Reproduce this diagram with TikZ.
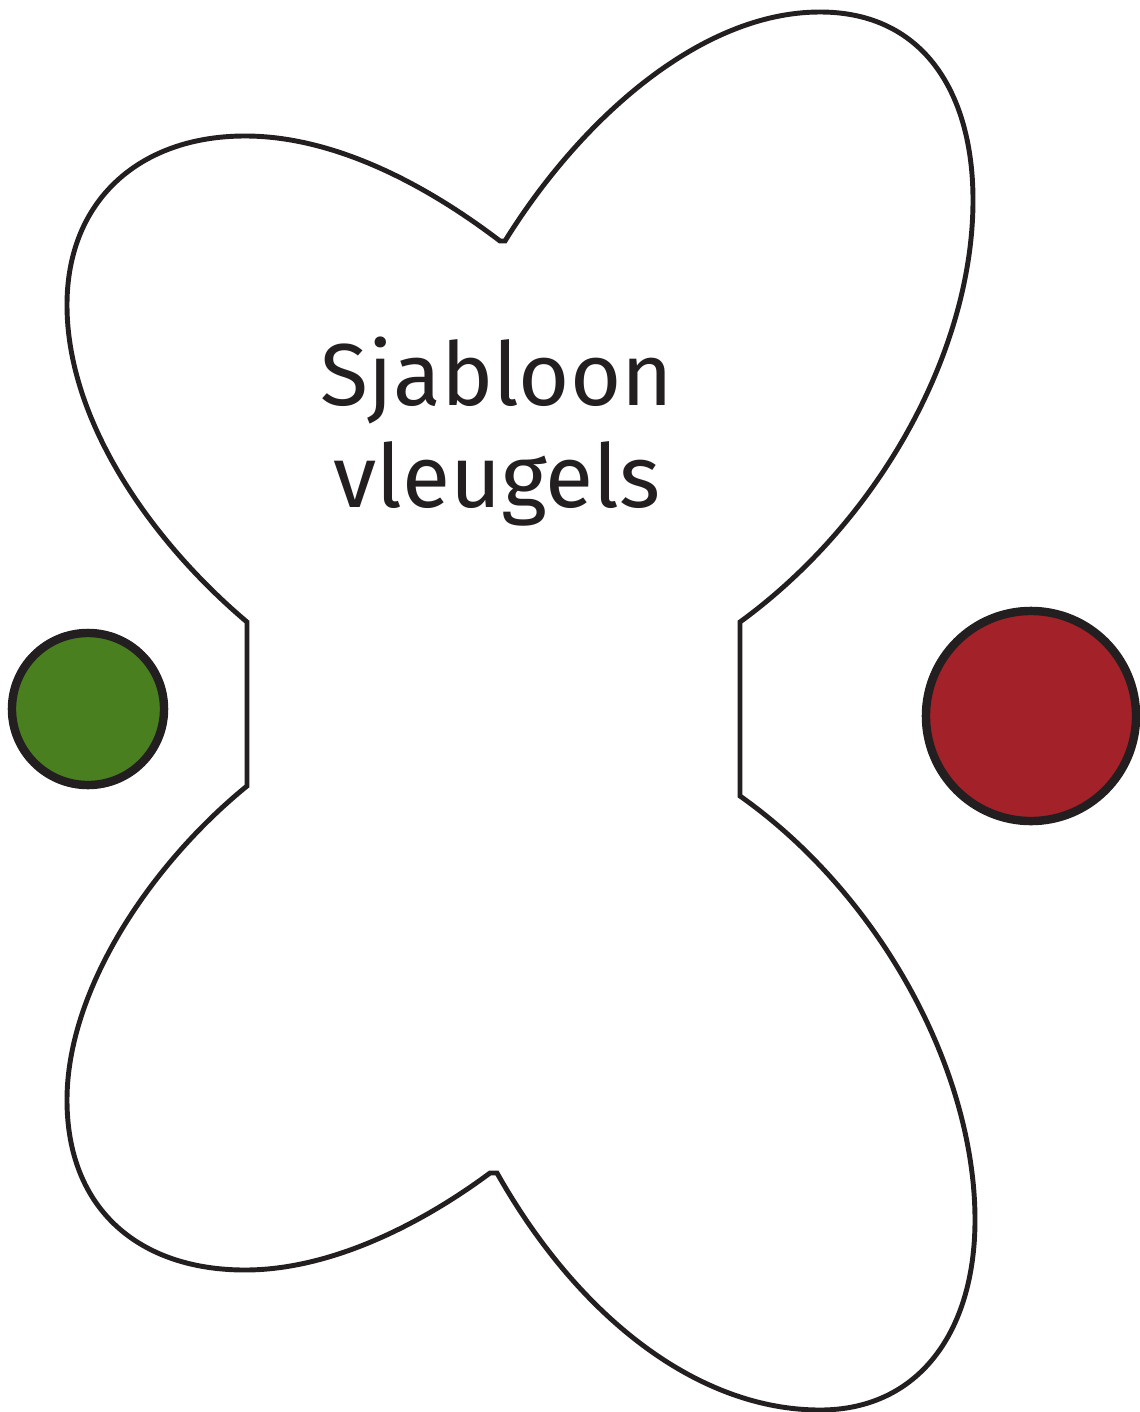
\documentclass[tikz,border=0pt]{standalone}
\usepackage{fontspec}
\setmainfont{Fira Sans}
\usepackage{tikz}
\definecolor{inkdark}{HTML}{231F20}
\definecolor{dotgreen}{HTML}{4A7F20}
\definecolor{dotred}{HTML}{A32129}

\begin{document}
\begin{tikzpicture}[x=0.01cm,y=-0.01cm,
 outline/.style={draw=inkdark,line width=1.4pt,line join=miter},
 dot/.style={circle,draw=inkdark,line width=2.4pt,inner sep=0pt},
 label/.style={align=center,font=\fontsize{25}{29}\selectfont,text=inkdark}]
 \useasboundingbox (0,0) rectangle (1139,1412);
 % wing template
 \draw[outline] (505,241) .. controls (580,120) and (700,12) .. (820,12)
  .. controls (925,12) and (973,95) .. (973,200)
  .. controls (973,350) and (880,520) .. (740,622)
  -- (740,796)
  .. controls (880,895) and (975,1070) .. (975,1220)
  .. controls (975,1330) and (920,1410) .. (820,1410)
  .. controls (700,1410) and (580,1320) .. (497,1173)
  -- (490,1173)
  .. controls (420,1225) and (330,1270) .. (245,1270)
  .. controls (140,1270) and (67,1210) .. (67,1100)
  .. controls (67,990) and (150,865) .. (247,786)
  -- (247,622)
  .. controls (150,540) and (67,420) .. (67,305)
  .. controls (67,200) and (140,136) .. (245,136)
  .. controls (330,136) and (420,180) .. (500,241)
  -- cycle;
 \node[label] (title) at (497,432) {Sjabloon\\vleugels};
 % markers
 \node[dot,fill=dotgreen,minimum size=1.52cm] (green) at (88,709) {};
 \node[dot,fill=dotred,minimum size=2.1cm] (red) at (1031,716) {};
\end{tikzpicture}
\end{document}
